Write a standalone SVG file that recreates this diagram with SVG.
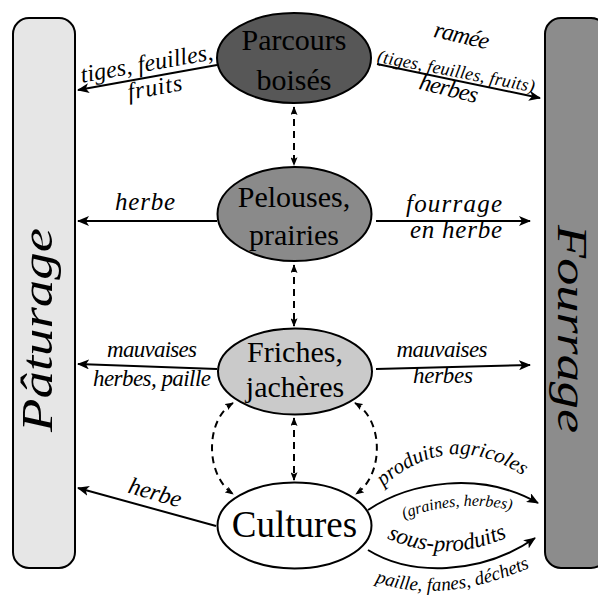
<svg xmlns="http://www.w3.org/2000/svg" width="598" height="598" viewBox="0 0 598 598" font-family="Liberation Serif, serif">
<rect width="598" height="598" fill="#fff"/>
<defs>
<marker id="ah" viewBox="0 0 12 10" refX="11" refY="5" markerWidth="12" markerHeight="10" markerUnits="userSpaceOnUse" orient="auto"><path d="M0,0 L12,5 L0,10 L3,5 z" fill="#000"/></marker>
<marker id="dh" viewBox="0 0 10 8" refX="9" refY="4" markerWidth="9" markerHeight="7" markerUnits="userSpaceOnUse" orient="auto"><path d="M0,0 L10,4 L0,8 L2,4 z" fill="#000"/></marker>
<marker id="dhs" viewBox="0 0 10 8" refX="1" refY="4" markerWidth="9" markerHeight="7" markerUnits="userSpaceOnUse" orient="auto"><path d="M10,0 L0,4 L10,8 L8,4 z" fill="#000"/></marker>
<path id="p1" d="M 375 494 Q 450 421 532 482"/>
<path id="p2" d="M 396 522 Q 455 496 520 512"/>
<path id="p3" d="M 382 536 Q 445 567 512 535"/>
<path id="p4" d="M 365 578 Q 440 610 540 563"/>
</defs>

<g id="paturage">
<rect x="13" y="18" width="62" height="550" rx="16" fill="#e6e6e6" stroke="#000" stroke-width="2"/>
<text style="font-family:'Liberation Serif',serif;font-style:italic;font-size:44px" text-anchor="middle" transform="translate(52,330) rotate(-90)" textLength="204" lengthAdjust="spacingAndGlyphs">P&#226;turage</text>
</g>
<g id="fourrage">
<rect x="545" y="18" width="62" height="550" rx="16" fill="#8c8c8c" stroke="#000" stroke-width="2"/>
<text style="font-family:'Liberation Serif',serif;font-style:italic;font-size:42px" text-anchor="middle" transform="translate(558,329) rotate(90)" textLength="208" lengthAdjust="spacingAndGlyphs">Fourrage</text>
</g>

<g id="connectors" fill="none" stroke="#000" stroke-width="2">
<g marker-end="url(#ah)">
<line x1="217" y1="65" x2="78" y2="90"/>
<line x1="377" y1="64" x2="540" y2="98"/>
<line x1="217" y1="221" x2="78" y2="221"/>
<line x1="376" y1="221" x2="530" y2="221"/>
<line x1="217" y1="369" x2="78" y2="364"/>
<line x1="376" y1="369" x2="530" y2="365"/>
<line x1="216" y1="526" x2="78" y2="488"/>
<path d="M 368 510 C 410 482, 480 470, 538 503"/>
<path d="M 368 550 C 410 576, 480 576, 535 538"/>
</g>
<g stroke-dasharray="7 5" marker-start="url(#dhs)" marker-end="url(#dh)">
<line x1="294" y1="107" x2="294" y2="165"/>
<line x1="294" y1="265" x2="294" y2="326"/>
<line x1="294" y1="418" x2="294" y2="480"/>
<path d="M 233 403 C 205 420, 205 475, 233 494"/>
<path d="M 355 403 C 384 420, 384 475, 356 494"/>
</g>
</g>

<g id="labels" text-anchor="middle">
<text style="font-family:'Liberation Serif',serif;font-style:italic;font-size:24px" transform="translate(148,71) rotate(-10)" textLength="134">tiges, feuilles,</text>
<text style="font-family:'Liberation Serif',serif;font-style:italic;font-size:24px" transform="translate(156,95) rotate(-10)" textLength="55">fruits</text>
<text style="font-family:'Liberation Serif',serif;font-style:italic;font-size:24px" transform="translate(460,43) rotate(13)" textLength="56">ram&#233;e</text>
<text style="font-family:'Liberation Serif',serif;font-style:italic;font-size:18px" transform="translate(455,77) rotate(11)" textLength="160">(tiges, feuilles, fruits)</text>
<text style="font-family:'Liberation Serif',serif;font-style:italic;font-size:24px" transform="translate(447,96) rotate(14)" textLength="60">herbes</text>
<text style="font-family:'Liberation Serif',serif;font-style:italic;font-size:25px" x="145" y="210" textLength="60">herbe</text>
<text style="font-family:'Liberation Serif',serif;font-style:italic;font-size:25px" x="454" y="212" textLength="96">fourrage</text>
<text style="font-family:'Liberation Serif',serif;font-style:italic;font-size:25px" x="456" y="238" textLength="92">en herbe</text>
<text style="font-family:'Liberation Serif',serif;font-style:italic;font-size:23px" x="152" y="357" textLength="90">mauvaises</text>
<text style="font-family:'Liberation Serif',serif;font-style:italic;font-size:23px" x="152" y="386" textLength="118">herbes, paille</text>
<text style="font-family:'Liberation Serif',serif;font-style:italic;font-size:23px" x="442" y="357" textLength="91">mauvaises</text>
<text style="font-family:'Liberation Serif',serif;font-style:italic;font-size:23px" x="443" y="383" textLength="60">herbes</text>
<text style="font-family:'Liberation Serif',serif;font-style:italic;font-size:24px" transform="translate(153,500) rotate(16)" textLength="54">herbe</text>
<text style="font-family:'Liberation Serif',serif;font-style:italic;font-size:21px"><textPath href="#p1" startOffset="50%">produits agricoles</textPath></text>
<text style="font-family:'Liberation Serif',serif;font-style:italic;font-size:16px"><textPath href="#p2" startOffset="50%">(graines, herbes)</textPath></text>
<text style="font-family:'Liberation Serif',serif;font-style:italic;font-size:23px"><textPath href="#p3" startOffset="50%">sous-produits</textPath></text>
<text style="font-family:'Liberation Serif',serif;font-style:italic;font-size:19px"><textPath href="#p4" startOffset="50%">paille, fanes, d&#233;chets</textPath></text>
</g>

<g id="parcours" text-anchor="middle">
<ellipse cx="294" cy="58" rx="77" ry="45" fill="#575757" stroke="#000" stroke-width="2"/>
<text style="font-family:'Liberation Serif',serif;font-size:30px" x="294" y="50">Parcours</text>
<text style="font-family:'Liberation Serif',serif;font-size:30px" x="294" y="90">bois&#233;s</text>
</g>
<g id="pelouses" text-anchor="middle">
<ellipse cx="294.5" cy="214" rx="77" ry="47" fill="#8a8a8a" stroke="#000" stroke-width="2"/>
<text style="font-family:'Liberation Serif',serif;font-size:30px" x="294" y="207">Pelouses,</text>
<text style="font-family:'Liberation Serif',serif;font-size:30px" x="294" y="245">prairies</text>
</g>
<g id="friches" text-anchor="middle">
<ellipse cx="295" cy="371.5" rx="77" ry="43" fill="#cacaca" stroke="#000" stroke-width="2"/>
<text style="font-family:'Liberation Serif',serif;font-size:30px" x="295" y="362">Friches,</text>
<text style="font-family:'Liberation Serif',serif;font-size:30px" x="295" y="397">jach&#232;res</text>
</g>
<g id="cultures" text-anchor="middle">
<ellipse cx="294.5" cy="525.5" rx="77" ry="43" fill="#fff" stroke="#000" stroke-width="2"/>
<text style="font-family:'Liberation Serif',serif;font-size:37px" x="294.5" y="537">Cultures</text>
</g>
</svg>
